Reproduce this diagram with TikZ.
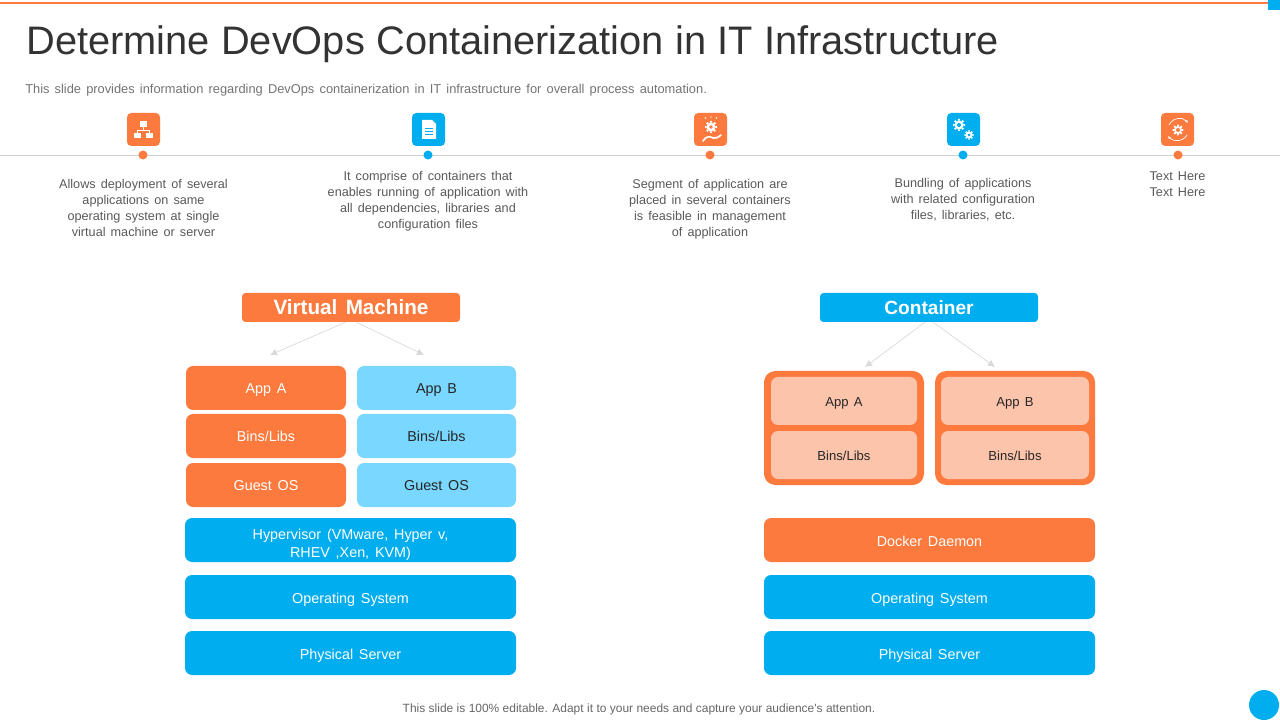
\documentclass[tikz,border=0pt]{standalone}
\usepackage{fontspec}
\setmainfont[WordSpace=1.45]{Liberation Sans}
\newfontfamily\plainfont[WordSpace=1.03]{Liberation Sans}
\usetikzlibrary{arrows.meta,calc}
\definecolor{slideorange}{HTML}{FD7A3E}
\definecolor{slideblue}{HTML}{00ADEF}
\definecolor{slidesky}{HTML}{7AD7FF}
\definecolor{slidepeach}{HTML}{FDC4AC}
\definecolor{slidegrey}{HTML}{595959}
\definecolor{slideline}{HTML}{D0D0D0}
\tikzset{
	block/.style={rounded corners=5pt, inner sep=0pt, align=center, text height=8.4pt, text depth=0pt, font=\fontsize{10.2}{12.8}\selectfont},
	orangeblock/.style={block, fill=slideorange, text=white},
	blueblock/.style={block, fill=slideblue, text=white, text height=9.4pt},
	skyblock/.style={block, fill=slidesky, text=black!85},
	peachblock/.style={block, fill=slidepeach, text=black!85, text height=7.4pt, font=\fontsize{9.3}{11}\selectfont},
	headblock/.style={rounded corners=2.5pt, inner sep=0pt, text=white, text height=9.6pt, text depth=0pt},
	note/.style={text=slidegrey, align=center, inner sep=0pt, font=\fontsize{9}{11.4}\selectfont},
	iconbox/.style={rounded corners=3pt, inner sep=0pt, minimum width=33*0.025cm, minimum height=33*0.025cm},
	linkarrow/.style={draw=slideline!80, line width=0.5pt, -{Latex[length=5pt,width=5pt]}}
}
\def\gearshape(#1)(#2)[#3]{
	\foreach \ang in {0,45,...,315}
		\fill[#3] ($(#1)+(\ang-14:#2)$) -- ($(#1)+(\ang-9:#2*1.35)$) -- ($(#1)+(\ang+9:#2*1.35)$) -- ($(#1)+(\ang+14:#2)$) -- cycle;
	\fill[#3] (#1) circle (#2);
}
\begin{document}
\begin{tikzpicture}[x=0.025cm, y=-0.025cm]
		%%%%% START %%%%%
		\useasboundingbox (0, 0) rectangle (1280, 720);
		
		\draw[line width=0.8pt, color=slideorange] (0, 3) -- (1268, 3);
		\fill[slideblue] (1268, 0) rectangle (1280, 10.5);
		
		\node[anchor=west, inner sep=0pt, text=black!80, font=\fontsize{28.3}{32}\selectfont\plainfont] (title) at (26, 44) {Determine DevOps Containerization in IT Infrastructure};
		\node[anchor=west, inner sep=0pt, text=black!55, font=\fontsize{9.13}{10}\selectfont] (subtitle) at (25, 90) {This slide provides information regarding DevOps containerization in IT infrastructure for overall process automation.};
		
		% timeline
		\draw[line width=0.7pt, color=slideline] (0, 155) -- (1280, 155);
		\node[iconbox, fill=slideorange] (iconA) at (143.5, 129.5) {};
		\node[iconbox, fill=slideblue] (iconB) at (428.5, 129.5) {};
		\node[iconbox, fill=slideorange] (iconC) at (710.5, 129.5) {};
		\node[iconbox, fill=slideblue] (iconD) at (963.5, 129.5) {};
		\node[iconbox, fill=slideorange] (iconE) at (1177.5, 129.5) {};
		\fill[slideorange] (143, 155) circle (4.5);
		\fill[slideblue] (428, 155) circle (4.5);
		\fill[slideorange] (710, 155) circle (4.5);
		\fill[slideblue] (963, 155) circle (4.5);
		\fill[slideorange] (1178, 155) circle (4.5);
		
		% icon A
		\fill[white] (140, 121) rectangle (147, 127);
		\fill[white] (134, 133) rectangle (141, 138);
		\fill[white] (146, 133) rectangle (153, 138);
		\draw[white, line width=0.4pt] (143.5, 127) -- (143.5, 130) (137.5, 133) -- (137.5, 130) -- (149.5, 130) -- (149.5, 133);
		
		% icon B
		\fill[white] (422, 120) -- (432, 120) -- (436, 124) -- (436, 139) -- (422, 139) -- cycle;
		\draw[slideblue, line width=0.5pt] (425, 128) -- (433, 128) (425, 131) -- (433, 131) (425, 134) -- (433, 134);
		
		% icon C
		\gearshape(711, 127)(4.5)[white]
		\fill[slideorange] (711, 127) circle (1.8);
		\draw[white, line width=0.5pt] (711, 116) -- (711, 118) (705, 117) -- (706, 119) (717, 117) -- (716, 119);
		\draw[white, line width=1.2pt, line cap=round] (703, 141) .. controls (706, 136) and (710, 136) .. (713, 138) .. controls (716, 139) and (719, 137) .. (721, 135);
		
		% icon D
		\gearshape(959, 125)(4.5)[white]
		\fill[slideblue] (959, 125) circle (2);
		\gearshape(969, 135)(3.5)[white]
		\fill[slideblue] (969, 135) circle (1.5);
		
		% icon E
		\gearshape(1178, 130)(4)[white]
		\fill[slideorange] (1178, 130) circle (2);
		\draw[white, line width=0.5pt, -{Latex[length=2pt,width=2pt]}] (1169, 125) .. controls (1173, 117) and (1183, 117) .. (1188, 123);
		\draw[white, line width=0.5pt, -{Latex[length=2pt,width=2pt]}] (1187, 135) .. controls (1183, 142) and (1173, 142) .. (1168, 136);
		
		\node[note] (noteA) at (143.5, 208) {Allows deployment of several\\applications on same\\operating system at single\\virtual machine or server};
		\node[note] (noteB) at (428, 201.5) {It comprise of containers that\\enables running of application with\\all dependencies, libraries and\\configuration files};
		\node[note] (noteC) at (710, 209) {Segment of application are\\placed in several containers\\is feasible in management\\of application};
		\node[note] (noteD) at (963, 200) {Bundling of applications\\with related configuration\\files, libraries, etc.};
		\node[note] (noteE) at (1177.5, 184.5) {Text Here\\Text Here};
		
		% virtual machine
		\node[headblock, fill=slideorange, font=\fontsize{14.7}{16}\selectfont\bfseries, minimum width=218*0.025cm, minimum height=29*0.025cm] (vmhead) at (351, 307.5) {Virtual Machine};
		\coordinate (vmleft) at (270, 355);
		\coordinate (vmright) at (424, 355);
		\draw[linkarrow] ([xshift=-4pt]vmhead.south) -- (vmleft);
		\draw[linkarrow] ([xshift=4pt]vmhead.south) -- (vmright);
		
		\node[orangeblock, minimum width=160*0.025cm, minimum height=44*0.025cm] (appA) at (266, 388) {App A};
		\node[orangeblock, minimum width=160*0.025cm, minimum height=44*0.025cm] (binsA) at (266, 436) {Bins/Libs};
		\node[orangeblock, minimum width=160*0.025cm, minimum height=44*0.025cm] (guestA) at (266, 485) {Guest OS};
		\node[skyblock, minimum width=159*0.025cm, minimum height=44*0.025cm] (appB) at (436.5, 388) {App B};
		\node[skyblock, minimum width=159*0.025cm, minimum height=44*0.025cm] (binsB) at (436.5, 436) {Bins/Libs};
		\node[skyblock, minimum width=159*0.025cm, minimum height=44*0.025cm] (guestB) at (436.5, 485) {Guest OS};
		
		\node[blueblock, text height=24.4pt, text depth=0pt, minimum width=331*0.025cm, minimum height=44*0.025cm] (hypervisor) at (350.5, 540) {Hypervisor (VMware, Hyper v,\\RHEV ,Xen, KVM)};
		\node[blueblock, minimum width=331*0.025cm, minimum height=44*0.025cm] (vmos) at (350.5, 597) {Operating System};
		\node[blueblock, minimum width=331*0.025cm, minimum height=44*0.025cm] (vmserver) at (350.5, 653) {Physical Server};
		
		% container
		\node[headblock, fill=slideblue, font=\fontsize{13.6}{16}\selectfont\bfseries, minimum width=218*0.025cm, minimum height=29*0.025cm] (cthead) at (929, 307.5) {Container};
		\coordinate (ctleft) at (865, 367);
		\coordinate (ctright) at (995, 367);
		\draw[linkarrow] ([xshift=-3pt]cthead.south) -- (ctleft);
		\draw[linkarrow] ([xshift=3pt]cthead.south) -- (ctright);
		
		\node[block, fill=slideorange, minimum width=160*0.025cm, minimum height=114*0.025cm, rounded corners=8pt] (podA) at (844, 428) {};
		\node[block, fill=slideorange, minimum width=160*0.025cm, minimum height=114*0.025cm, rounded corners=8pt] (podB) at (1015, 428) {};
		\node[peachblock, minimum width=146*0.025cm, minimum height=48*0.025cm] (ctappA) at (844, 401) {App A};
		\node[peachblock, minimum width=146*0.025cm, minimum height=48*0.025cm] (ctbinsA) at (844, 455) {Bins/Libs};
		\node[peachblock, minimum width=148*0.025cm, minimum height=48*0.025cm] (ctappB) at (1015, 401) {App B};
		\node[peachblock, minimum width=148*0.025cm, minimum height=48*0.025cm] (ctbinsB) at (1015, 455) {Bins/Libs};
		
		\node[orangeblock, text height=9.4pt, minimum width=331*0.025cm, minimum height=44*0.025cm] (docker) at (929.5, 540) {Docker Daemon};
		\node[blueblock, minimum width=331*0.025cm, minimum height=44*0.025cm] (ctos) at (929.5, 597) {Operating System};
		\node[blueblock, minimum width=331*0.025cm, minimum height=44*0.025cm] (ctserver) at (929.5, 653) {Physical Server};
		
		% footer
		\node[inner sep=0pt, text=black!60, font=\fontsize{8.5}{10}\selectfont\plainfont] (footer) at (639, 709) {This slide is 100\% editable. Adapt it to your needs and capture your audience's attention.};
		\fill[slideblue] (1264, 705) circle (15);
		
		%%%%% END %%%%%
	\end{tikzpicture}
\end{document}
